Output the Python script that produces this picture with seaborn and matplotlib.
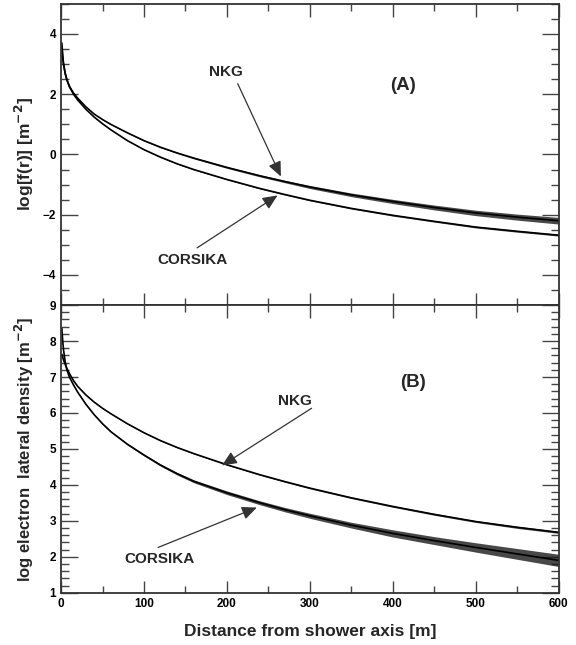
import numpy as np
import pandas as pd
import matplotlib
matplotlib.use("Agg")
import matplotlib.pyplot as plt
from matplotlib.ticker import MultipleLocator
import seaborn as sns

# ---------------- data ----------------
r = [1, 2, 3, 5, 7, 10, 15, 20, 30, 40, 50, 60, 80, 100, 120, 140, 160, 200, 240, 270,
     300, 350, 400, 450, 500, 550, 600]

nkg_a = [3.6, 3.22, 2.98, 2.68, 2.48, 2.27, 2.04, 1.87, 1.58, 1.34, 1.16, 1.0, 0.72, 0.46,
         0.24, 0.05, -0.12, -0.43, -0.71, -0.9, -1.08, -1.34, -1.56, -1.76, -1.94, -2.08, -2.2]
nkg_a_err = [0.01, 0.01, 0.01, 0.01, 0.01, 0.01, 0.01, 0.01, 0.01, 0.01, 0.01, 0.012, 0.015,
             0.018, 0.02, 0.02, 0.025, 0.03, 0.035, 0.04, 0.05, 0.06, 0.07, 0.08, 0.09, 0.1, 0.11]
cors_a = [3.7, 3.28, 3.02, 2.7, 2.48, 2.25, 2.0, 1.81, 1.5, 1.24, 1.02, 0.82, 0.46, 0.16,
          -0.09, -0.31, -0.5, -0.83, -1.13, -1.33, -1.52, -1.79, -2.02, -2.22, -2.41, -2.55, -2.68]
cors_a_err = [0.01, 0.01, 0.01, 0.01, 0.01, 0.01, 0.01, 0.01, 0.01, 0.01, 0.01, 0.01, 0.01,
              0.01, 0.012, 0.012, 0.015, 0.015, 0.018, 0.02, 0.02, 0.022, 0.025, 0.025, 0.03,
              0.03, 0.03]

nkg_b = [7.63, 7.55, 7.47, 7.35, 7.24, 7.1, 6.9, 6.74, 6.5, 6.3, 6.13, 5.98, 5.7, 5.45,
         5.23, 5.04, 4.87, 4.56, 4.28, 4.09, 3.91, 3.64, 3.4, 3.18, 2.98, 2.82, 2.68]
nkg_b_err = [0.01, 0.01, 0.01, 0.01, 0.01, 0.01, 0.01, 0.01, 0.01, 0.01, 0.01, 0.01, 0.01,
             0.01, 0.012, 0.012, 0.012, 0.015, 0.015, 0.018, 0.02, 0.02, 0.022, 0.025, 0.025,
             0.03, 0.03]
cors_b = [8.35, 8.0, 7.75, 7.42, 7.2, 7.0, 6.78, 6.58, 6.24, 5.95, 5.7, 5.48, 5.13, 4.83,
          4.55, 4.31, 4.1, 3.78, 3.5, 3.31, 3.14, 2.88, 2.65, 2.45, 2.26, 2.08, 1.9]
cors_b_err = [0.01, 0.01, 0.01, 0.01, 0.01, 0.01, 0.012, 0.012, 0.015, 0.015, 0.018, 0.02,
              0.02, 0.025, 0.03, 0.035, 0.04, 0.05, 0.055, 0.06, 0.07, 0.08, 0.1, 0.11, 0.13,
              0.15, 0.17]

x_ticks = [0, 100, 200, 300, 400, 500, 600]
ya_ticks = [-4, -2, 0, 2, 4]
yb_ticks = [1, 2, 3, 4, 5, 6, 7, 8, 9]

# ---------------- style ----------------
sns.set_style("ticks")
plt.rcParams["font.family"] = ["Liberation Sans", "DejaVu Sans"]
plt.rcParams["font.weight"] = "bold"
plt.rcParams["axes.labelweight"] = "bold"
plt.rcParams["mathtext.default"] = "bf"

fig = plt.figure(figsize=(5.76, 6.45), dpi=100)
ax1 = fig.add_axes([0.106, 0.527, 0.864, 0.467])
ax2 = fig.add_axes([0.106, 0.081, 0.864, 0.446])

def draw(ax, y, err):
    df = pd.DataFrame({"r": r, "v": y})
    sns.lineplot(data=df, x="r", y="v", ax=ax, color="black", lw=1.2, legend=False)
    lo = np.array(y) - np.array(err)
    hi = np.array(y) + np.array(err)
    ax.fill_between(r, lo, hi, color="#1a1a1a", alpha=0.8, lw=0)

draw(ax1, nkg_a, nkg_a_err)
draw(ax1, cors_a, cors_a_err)
draw(ax2, nkg_b, nkg_b_err)
draw(ax2, cors_b, cors_b_err)

for ax in (ax1, ax2):
    ax.set_xlim(0, 600)
    ax.xaxis.set_major_locator(MultipleLocator(100))
    ax.xaxis.set_minor_locator(MultipleLocator(50))
    ax.tick_params(axis="both", which="both", direction="in", top=True, right=True,
                   colors="#444444", labelcolor="black", labelsize=8.5)
    ax.tick_params(axis="x", which="major", length=9, width=1)
    ax.tick_params(axis="x", which="minor", length=5, width=1)
    ax.tick_params(axis="y", which="major", length=12, width=1)
    ax.tick_params(axis="y", which="minor", length=6, width=1)
    for s in ax.spines.values():
        s.set_linewidth(1.3)
        s.set_color("#333333")

ax1.set_ylim(-5, 5)
ax1.set_yticks(ya_ticks)
ax1.yaxis.set_minor_locator(MultipleLocator(0.5))
ax1.set_xticklabels([])
ax1.set_xlabel("")
ax1.set_ylabel(r"log[f(r)] [m$^{-2}$]", fontsize=12.5, fontweight="bold")

ax2.set_ylim(1, 9)
ax2.set_yticks(yb_ticks)
ax2.yaxis.set_minor_locator(MultipleLocator(0.2))
ax2.set_xticks(x_ticks)
ax2.set_xticklabels([str(t) for t in x_ticks])
ax2.set_xlabel("Distance from shower axis [m]", fontsize=12.5, fontweight="bold", labelpad=10)
ax2.set_ylabel(r"log electron  lateral density [m$^{-2}$]", fontsize=12, fontweight="bold")

for lab in ax1.get_yticklabels() + ax2.get_yticklabels() + ax2.get_xticklabels():
    lab.set_fontweight("bold")

ax1.yaxis.set_label_coords(-0.05, 0.5)
ax2.yaxis.set_label_coords(-0.05, 0.5)

arrow = dict(arrowstyle="-|>,head_length=0.9,head_width=0.4", color="#333333", lw=0.9,
             shrinkA=0, shrinkB=0)
lbl = dict(fontsize=11, fontweight="bold", ha="center", va="center")

# panel A
ax1.text(199, 2.74, "NKG", **lbl)
ax1.annotate("", xy=(265, -0.73), xytext=(213, 2.35), arrowprops=arrow)
ax1.text(158, -3.5, "CORSIKA", **lbl)
ax1.annotate("", xy=(261, -1.36), xytext=(164, -3.1), arrowprops=arrow)
ax1.text(412, 2.28, "(A)", fontsize=13.5, fontweight="bold", ha="center", va="center")

# panel B
ax2.text(282, 6.33, "NKG", **lbl)
ax2.annotate("", xy=(194, 4.54), xytext=(302, 6.13), arrowprops=arrow)
ax2.text(119, 1.93, "CORSIKA", **lbl)
ax2.annotate("", xy=(236, 3.37), xytext=(117, 2.26), arrowprops=arrow)
ax2.text(424, 6.86, "(B)", fontsize=13.5, fontweight="bold", ha="center", va="center")

fig.savefig("out.png", dpi=100)
